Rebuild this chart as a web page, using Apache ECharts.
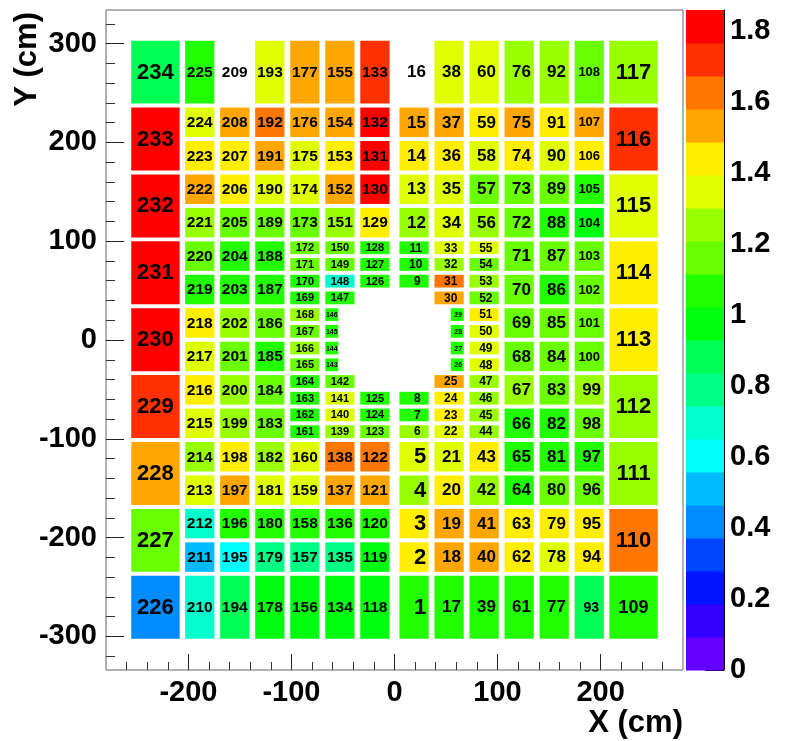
<!DOCTYPE html>
<html><head><meta charset="utf-8">
<script src="https://cdn.jsdelivr.net/npm/echarts@6/dist/echarts.min.js"></script>
<style>html,body{margin:0;padding:0;background:#fff}#c{width:785px;height:741px}</style>
</head><body><div id="c"></div>
<script>
// ---------------- DATA ----------------
// Module column centres (cm), left to right
const columnX = [-232, -189, -155, -121, -87, -53, -19, 19, 53, 87, 121, 155, 189, 232];
// Modules in each column, listed top to bottom: [module id, height in quarter-row units, sub-part]
// id 0 = no module (beam hole)
const columnModules = [
  [[234,4],[233,4],[232,4],[231,4],[230,4],[229,4],[228,4],[227,4],[226,4]],
  [[225,4],[224,2],[223,2],[222,2],[221,2],[220,2],[219,2],[218,2],[217,2],[216,2],[215,2],[214,2],[213,2],[212,2],[211,2],[210,4]],
  [[209,4],[208,2],[207,2],[206,2],[205,2],[204,2],[203,2],[202,2],[201,2],[200,2],[199,2],[198,2],[197,2],[196,2],[195,2],[194,4]],
  [[193,4],[192,2],[191,2],[190,2],[189,2],[188,2],[187,2],[186,2],[185,2],[184,2],[183,2],[182,2],[181,2],[180,2],[179,2],[178,4]],
  [[177,4],[176,2],[175,2],[174,2],[173,2],[172,1],[171,1],[170,1],[169,1],[168,1],[167,1],[166,1],[165,1],[164,1],[163,1],[162,1],[161,1],[160,2],[159,2],[158,2],[157,2],[156,4]],
  [[155,4],[154,2],[153,2],[152,2],[151,2],[150,1],[149,1],[148,1],[147,1],[146,1,'L'],[145,1,'L'],[144,1,'L'],[143,1,'L'],[142,1],[141,1],[140,1],[139,1],[138,2],[137,2],[136,2],[135,2],[134,4]],
  [[133,4],[132,2],[131,2],[130,2],[129,2],[128,1],[127,1],[126,1],[0,6],[125,1],[124,1],[123,1],[122,2],[121,2],[120,2],[119,2],[118,4]],
  [[16,4],[15,2],[14,2],[13,2],[12,2],[11,1],[10,1],[9,1],[0,6],[8,1],[7,1],[6,1],[5,2],[4,2],[3,2],[2,2],[1,4]],
  [[38,4],[37,2],[36,2],[35,2],[34,2],[33,1],[32,1],[31,1],[30,1],[29,1,'R'],[28,1,'R'],[27,1,'R'],[26,1,'R'],[25,1],[24,1],[23,1],[22,1],[21,2],[20,2],[19,2],[18,2],[17,4]],
  [[60,4],[59,2],[58,2],[57,2],[56,2],[55,1],[54,1],[53,1],[52,1],[51,1],[50,1],[49,1],[48,1],[47,1],[46,1],[45,1],[44,1],[43,2],[42,2],[41,2],[40,2],[39,4]],
  [[76,4],[75,2],[74,2],[73,2],[72,2],[71,2],[70,2],[69,2],[68,2],[67,2],[66,2],[65,2],[64,2],[63,2],[62,2],[61,4]],
  [[92,4],[91,2],[90,2],[89,2],[88,2],[87,2],[86,2],[85,2],[84,2],[83,2],[82,2],[81,2],[80,2],[79,2],[78,2],[77,4]],
  [[108,4],[107,2],[106,2],[105,2],[104,2],[103,2],[102,2],[101,2],[100,2],[99,2],[98,2],[97,2],[96,2],[95,2],[94,2],[93,4]],
  [[117,4],[116,4],[115,4],[114,4],[113,4],[112,4],[111,4],[110,4],[109,4]]
];
// Value of module 1..234 (0 = empty, not drawn)
const moduleValue = [
  1.07,1.44,1.44,1.26,1.35,1.26,1.07,1.07,1.07,1.07,
  1.07,1.26,1.35,1.44,1.53,0,1.07,1.53,1.53,1.44,
  1.35,1.35,1.44,1.44,1.53,1.07,1.07,1.07,1.07,1.53,
  1.63,1.26,1.35,1.35,1.35,1.44,1.53,1.35,1.07,1.53,
  1.53,1.26,1.44,1.26,1.26,1.26,1.26,1.35,1.35,1.35,
  1.44,1.16,1.26,1.16,1.35,1.26,1.16,1.35,1.44,1.35,
  1.07,1.44,1.44,1.07,1.07,1.07,1.26,1.16,1.16,1.16,
  1.16,1.16,1.16,1.44,1.53,1.26,1.07,1.35,1.44,1.16,
  1.07,1.07,1.16,1.16,1.16,1.07,1.16,1.07,1.16,1.35,
  1.44,1.26,0.88,1.44,1.44,1.16,1.07,1.16,1.26,1.16,
  1.16,1.16,1.16,0.98,1.07,1.44,1.53,1.16,1.07,1.63,
  1.26,1.26,1.44,1.44,1.35,1.72,1.26,0.98,0.98,1.07,
  1.53,1.63,1.16,1.07,1.07,1.07,1.07,1.07,1.44,1.81,
  1.81,1.81,1.72,0.98,0.79,1.07,1.53,1.63,1.26,1.35,
  1.35,1.16,1.07,1.07,1.07,1.07,1.07,0.70,1.16,1.16,
  1.26,1.53,1.44,1.53,1.53,0.98,0.79,1.07,1.35,1.35,
  1.07,1.07,1.07,1.07,1.16,1.26,1.16,1.26,1.07,1.07,
  1.16,1.16,1.16,1.35,1.35,1.53,1.53,0.98,0.79,1.07,
  1.35,1.26,1.16,1.16,1.07,1.16,1.07,1.07,1.16,1.35,
  1.53,1.63,1.35,0.88,0.60,1.07,1.53,1.44,1.26,1.26,
  1.16,1.26,1.07,1.07,1.16,1.44,1.44,1.53,0,0.70,
  0.51,0.70,1.35,1.26,1.35,1.44,1.35,1.44,1.07,1.16,
  1.26,1.53,1.44,1.35,1.07,0.42,1.16,1.53,1.72,1.81,
  1.81,1.81,1.81,0.88
];
const xMajorTicks = [-200, -100, 0, 100, 200];
const xMinorTicks = [-260,-240,-220,-200,-180,-160,-140,-120,-100,-80,-60,-40,-20,0,20,40,60,80,100,120,140,160,180,200,220,240,260];
const yMajorTicks = [-300, -200, -100, 0, 100, 200, 300];
const yMinorTicks = [-320,-300,-280,-260,-240,-220,-200,-180,-160,-140,-120,-100,-80,-60,-40,-20,0,20,40,60,80,100,120,140,160,180,200,220,240,260,280,300,320];
const zTicks = [0, 0.2, 0.4, 0.6, 0.8, 1, 1.2, 1.4, 1.6, 1.8];
const Z_MAX = 1.86;
const N_CONTOURS = 20;

// ---------------- GEOMETRY / STYLE ----------------
const X_MIN = -280, X_MAX = 280, Y_MIN = -334, Y_MAX = 334;
const ROW_TOP = 304.95, QUARTER = 16.925, PAD = 2;
const FONT = "'Liberation Sans', Arial, Helvetica, sans-serif";

// ROOT "pretty" palette (50 colours, hue 280 -> 0), sampled for 20 contours
const bands = [];
for (let j = 0; j < N_CONTOURS; j++) {
  const idx = Math.floor((j + 0.99) * 50 / N_CONTOURS);
  const hue = 280 - (idx + 1) * 5.6;
  bands.push({lo: j * Z_MAX / N_CONTOURS, hi: (j + 1) * Z_MAX / N_CONTOURS,
              color: 'hsl(' + hue.toFixed(1) + ',100%,50%)'});
}

const cells = [];
columnModules.forEach((col, ci) => {
  let q = 0;
  const big = ci === 0 || ci === columnModules.length - 1;
  const half = big ? 23.5 : 14.2;
  col.forEach(([id, span, part]) => {
    if (id) {
      let x0 = columnX[ci] - half, x1 = columnX[ci] + half;
      if (part === 'L') x1 = x0 + 12.6;
      if (part === 'R') x0 = x1 - 12.6;
      cells.push({id, span, big, part, value: moduleValue[id - 1], x0, x1,
        y1: ROW_TOP - q * QUARTER - PAD, y0: ROW_TOP - (q + span) * QUARTER + PAD});
    }
    q += span;
  });
});

const fontOverride = {100:13,101:13,102:13,103:13,104:13,105:13,106:13,107:13,108:13,109:18,93:14};
function labelSize(c) {
  if (fontOverride[c.id]) return fontOverride[c.id];
  const d = String(c.id).length;
  if (c.part) return 7;
  if (c.big) return 22;
  if (c.span === 1) return d === 3 ? 11 : 12;
  return d === 3 ? 15.5 : d === 2 ? 17 : 22;
}

const chart = echarts.init(document.getElementById('c'), null, {renderer: 'canvas'});
const tickLabel = {fontSize: 29, fontWeight: 'bold', fontFamily: FONT, color: '#000'};

chart.setOption({
  animation: false,
  backgroundColor: '#fff',
  grid: [
    {left: 106, top: 10, width: 577, height: 660, show: true, borderColor: '#666', borderWidth: 1, backgroundColor: '#fff', outerBoundsMode: 'none'},
    {left: 686, top: 10, width: 38, height: 660, outerBoundsMode: 'none'}
  ],
  xAxis: [
    {type: 'value', gridIndex: 0, position: 'bottom', min: X_MIN, max: X_MAX,
     axisLine: {show: false, onZero: false}, splitLine: {show: false},
     axisTick: {inside: true, length: 8, customValues: xMinorTicks, lineStyle: {color: '#333'}},
     axisLabel: {show: false}},
    {type: 'value', gridIndex: 0, position: 'bottom', min: X_MIN, max: X_MAX,
     axisLine: {show: false, onZero: false}, splitLine: {show: false},
     axisTick: {inside: true, length: 16, customValues: xMajorTicks, lineStyle: {color: '#222'}},
     axisLabel: Object.assign({customValues: xMajorTicks, margin: 8}, tickLabel)},
    {type: 'value', gridIndex: 1, min: 0, max: 1, show: false}
  ],
  yAxis: [
    {type: 'value', gridIndex: 0, position: 'left', min: Y_MIN, max: Y_MAX,
     axisLine: {show: false, onZero: false}, splitLine: {show: false},
     axisTick: {inside: true, length: 9, customValues: yMinorTicks, lineStyle: {color: '#333'}},
     axisLabel: {show: false}},
    {type: 'value', gridIndex: 0, position: 'left', min: Y_MIN, max: Y_MAX,
     axisLine: {show: false, onZero: false}, splitLine: {show: false},
     axisTick: {inside: true, length: 18, customValues: yMajorTicks, lineStyle: {color: '#222'}},
     axisLabel: Object.assign({customValues: yMajorTicks, margin: 9}, tickLabel)},
    {type: 'value', gridIndex: 1, position: 'right', min: 0, max: Z_MAX,
     axisLine: {show: true, onZero: false, lineStyle: {color: '#000'}}, splitLine: {show: false},
     axisTick: {inside: true, length: 19, customValues: zTicks, lineStyle: {color: '#000'}},
     axisLabel: Object.assign({customValues: zTicks, margin: 6,
       formatter: v => String(+(+v).toFixed(1))}, tickLabel)}
  ],
  visualMap: {
    type: 'piecewise', show: false, seriesIndex: 0, dimension: 4,
    pieces: bands.map(b => ({gt: b.lo, lte: b.hi, color: b.color})),
    outOfRange: {color: '#ffffff'}
  },
  series: [
    {
      type: 'custom', xAxisIndex: 0, yAxisIndex: 0, clip: false,
      data: cells.map(c => [c.x0, c.x1, c.y0, c.y1, c.value, c.id]),
      renderItem: (params, api) => {
        const c = cells[params.dataIndex];
        const p0 = api.coord([api.value(0), api.value(3)]);
        const p1 = api.coord([api.value(1), api.value(2)]);
        const children = [];
        if (api.value(4) > 0) {
          children.push({type: 'rect', shape: {x: p0[0], y: p0[1], width: p1[0] - p0[0], height: p1[1] - p0[1]},
                         style: {fill: api.visual('color')}});
        }
        children.push({type: 'text', z2: 10, style: {
          text: String(c.id).padStart(3, ' '),
          x: (p0[0] + p1[0]) / 2, y: (p0[1] + p1[1]) / 2 + 0.5,
          align: 'center', verticalAlign: 'middle',
          fontSize: labelSize(c), fontWeight: 'bold', fontFamily: FONT, fill: '#000'}});
        return {type: 'group', children};
      }
    },
    {
      type: 'custom', xAxisIndex: 2, yAxisIndex: 2, clip: false,
      data: bands.map(b => [b.lo, b.hi]),
      renderItem: (params, api) => {
        const a = api.coord([0, api.value(1)]);
        const b = api.coord([1, api.value(0)]);
        return {type: 'rect', shape: {x: a[0], y: a[1], width: b[0] - a[0], height: b[1] - a[1] + 0.5},
                style: {fill: bands[params.dataIndex].color}};
      }
    }
  ],
  graphic: [
    {type: 'text', x: 683, y: 723, style: {text: 'X (cm)', align: 'right', verticalAlign: 'middle',
      fontSize: 31, fontWeight: 'bold', fontFamily: FONT, fill: '#000'}},
    {type: 'text', x: 27, y: 12, rotation: Math.PI / 2, style: {text: 'Y (cm)', align: 'right', verticalAlign: 'middle',
      fontSize: 31, fontWeight: 'bold', fontFamily: FONT, fill: '#000'}}
  ]
});
</script></body></html>
